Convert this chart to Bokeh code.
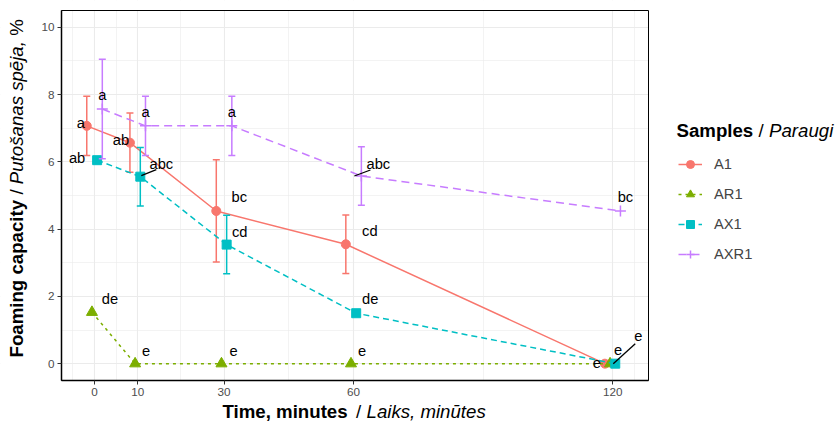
import numpy as np
from bokeh.plotting import figure
from bokeh.models import (ColumnDataSource, FixedTicker, Label, Legend, LegendItem,
                          Range1d, LinearAxis, Grid)
from bokeh.embed import file_html
from bokeh.resources import INLINE
from bokeh.core.properties import value

# ---------------- data ----------------
times = [0, 10, 30, 60, 120]
x_ticks = [0, 10, 30, 60, 120]
y_ticks = [0, 2, 4, 6, 8, 10]
samples = ["A1", "AR1", "AX1", "AXR1"]

a1_mean = [7.07, 6.57, 4.54, 3.55, 0.0]
a1_sd = [0.88, 0.88, 1.52, 0.87, 0.0]
ar1_mean = [1.53, 0.0, 0.0, 0.0, 0.0]
ar1_sd = [0.0, 0.0, 0.0, 0.0, 0.0]
ax1_mean = [6.05, 5.56, 3.54, 1.50, 0.0]
ax1_sd = [0.0, 0.87, 0.87, 0.0, 0.0]
axr1_mean = [7.57, 7.07, 7.07, 5.58, 4.54]
axr1_sd = [1.48, 0.88, 0.88, 0.87, 0.0]

a1_letters = ["a", "ab", "bc", "cd", "e"]
ar1_letters = ["de", "e", "e", "e", "e"]
ax1_letters = ["ab", "abc", "cd", "de", "e"]
axr1_letters = ["a", "a", "a", "abc", "bc"]

means = [a1_mean, ar1_mean, ax1_mean, axr1_mean]
sds = [a1_sd, ar1_sd, ax1_sd, axr1_sd]
letters = [a1_letters, ar1_letters, ax1_letters, axr1_letters]

# ---------------- styles ----------------
colors = ["#F8766D", "#7CAE00", "#00BFC4", "#C77CFF"]
dashes = ["solid", "3 4", "6 4", "8 5"]
markers = ["circle", "triangle", "square", "cross"]
msizes = [9, 11, 9, 11]
dodge = [-1.8, -0.6, 0.6, 1.8]
# label offsets in screen px (dx right, dy down)
lab_dx = [[-6, -9, 23, 24, -8],
          [18, 11, 12, 11, 8],
          [-20, 21, 13, 14, 23],
          [0, 0, 0, 17, 5]]
lab_dy = [[-4, -4, -15, -14, -2],
          [-14, -14, -14, -14, -15],
          [-3, -14, -14, -15, -29],
          [-15, -15, -15, -13, -15]]
# repel segments (screen px, relative to point): (series, index, x0, y0, x1, y1)
seg_px = [(2, 1, 1, -1, 16, -7),
          (3, 3, -7, 0, 9, -6),
          (2, 4, -2, 0, 20, -20)]

FONT = "Liberation Sans"
W, H = 837, 422
# panel box in canvas pixels
PL, PR, PT, PB = 61, 648, 10, 380
x0r, x1r = -7.65, 128.3
y0r, y1r = -0.5, 10.5
px_x = (PR - PL) / (x1r - x0r)
px_y = (PB - PT) / (y1r - y0r)
cx0 = x0r - PL / px_x
cx1 = x1r + (W - PR) / px_x
cy1 = y1r + PT / px_y
cy0 = y0r - (H - PB) / px_y

p = figure(width=W, height=H, output_backend="svg", toolbar_location=None,
           title=None, x_range=Range1d(cx0, cx1), y_range=Range1d(cy0, cy1),
           x_axis_location=None, y_axis_location=None,
           min_border=0, min_border_left=0, min_border_right=0,
           min_border_top=0, min_border_bottom=0)
p.background_fill_color = "white"
p.border_fill_color = "white"
p.outline_line_color = None
p.grid.visible = False

xtk = FixedTicker(ticks=x_ticks, minor_ticks=[-5, 5, 20, 45, 90, 125])
ytk = FixedTicker(ticks=y_ticks, minor_ticks=[1, 3, 5, 7, 9])

for dim, tk in ((0, xtk), (1, ytk)):
    g = Grid(dimension=dim, ticker=tk, grid_line_color="#EBEBEB", grid_line_width=1.1,
             minor_grid_line_color="#EBEBEB", minor_grid_line_width=0.6)
    p.add_layout(g)

# white masks outside the panel (hide grid outside)
p.quad(left=[cx0, x1r, x0r, x0r], right=[x0r, cx1, x1r, x1r],
       bottom=[cy0, cy0, y1r, cy0], top=[cy1, cy1, cy1, y0r],
       fill_color="white", line_color=None)
# panel border
p.quad(left=[x0r], right=[x1r], bottom=[y0r], top=[y1r], fill_color=None,
       line_color="black", line_width=1)

xax = LinearAxis(ticker=xtk, fixed_location=y0r, bounds=(x0r, x1r))
yax = LinearAxis(ticker=ytk, fixed_location=x0r, bounds=(y0r, y1r))
for ax in (xax, yax):
    ax.axis_line_color = "black"
    ax.axis_line_width = 1.5
    ax.major_tick_line_color = "#333333"
    ax.major_tick_out = 4
    ax.major_tick_in = 0
    ax.minor_tick_line_color = None
    ax.major_label_text_font = FONT
    ax.major_label_text_font_size = "11.7px"
    ax.major_label_text_color = "#4D4D4D"
    ax.major_label_standoff = 3
p.add_layout(xax, "below")
p.add_layout(yax, "left")

legend_items = []
for i, name in enumerate(samples):
    xs = [t + dodge[i] for t in times]
    m = means[i]
    s = sds[i]
    ex, elo, ehi = [], [], []
    for xv, mv, sv in zip(xs, m, s):
        if sv > 0:
            ex.append(xv); elo.append(mv - sv); ehi.append(mv + sv)
    if ex:
        cap = 3.5 / px_x
        p.segment(x0=ex, y0=elo, x1=ex, y1=ehi, line_color=colors[i], line_width=1.5)
        p.segment(x0=[v - cap for v in ex], y0=elo, x1=[v + cap for v in ex], y1=elo,
                  line_color=colors[i], line_width=1.5)
        p.segment(x0=[v - cap for v in ex], y0=ehi, x1=[v + cap for v in ex], y1=ehi,
                  line_color=colors[i], line_width=1.5)
    lr = p.line(xs, m, line_color=colors[i], line_width=1.5, line_dash=dashes[i])
    if markers[i] == "cross":
        mr = p.scatter(xs, m, marker="cross", size=msizes[i], line_color=colors[i],
                       line_width=1.5)
    else:
        mr = p.scatter(xs, m, marker=markers[i], size=msizes[i], fill_color=colors[i],
                       line_color=colors[i])
    legend_items.append(LegendItem(label=name, renderers=[lr, mr]))

# significance letters
for i in range(4):
    xs = [t + dodge[i] for t in times]
    src = ColumnDataSource(dict(x=xs, y=means[i], text=letters[i],
                                dx=lab_dx[i], dy=[d + 1 for d in lab_dy[i]]))
    p.text(x="x", y="y", text="text", x_offset="dx", y_offset="dy", source=src,
           text_align="center", text_baseline="middle", text_color="black",
           text_font=value(FONT), text_font_size="14.7px")

# repel segments
for (si, idx, sx0, sy0, sx1, sy1) in seg_px:
    bx = times[idx] + dodge[si]
    by = means[si][idx]
    p.segment(x0=[bx + sx0 / px_x], y0=[by - sy0 / px_y],
              x1=[bx + sx1 / px_x], y1=[by - sy1 / px_y],
              line_color="black", line_width=1.3)

legend = Legend(items=legend_items, location=(678, 158), orientation="vertical",
                glyph_width=24, glyph_height=20, label_height=20, spacing=10,
                padding=0, margin=0, label_standoff=12, border_line_color=None,
                background_fill_alpha=0, label_text_font=FONT,
                label_text_font_size="14.7px", label_text_baseline="middle")
p.add_layout(legend, "center")

def lab(x, y, text, style, angle=0.0, size="18.67px", align="left"):
    # x from canvas left, y from canvas top (converted to bottom-up screen units)
    p.add_layout(Label(x=x, y=H - y, x_units="screen", y_units="screen", text=text,
                       text_font=FONT, text_font_style=style, text_font_size=size,
                       text_baseline="alphabetic", text_align=align, angle=angle,
                       text_color="black"))

# x-axis title
XT_BASE = 411
lab(222, XT_BASE, "Time, minutes", "bold")
lab(358, XT_BASE, "/", "normal", align="center")
lab(366, XT_BASE, "Laiks, minūtes", "italic")

# y-axis title, rotated
a = np.pi / 2
YT_X = 15.5
lab(YT_X, 357, "Foaming capacity", "bold", angle=a)
lab(YT_X, 357 - 162.9, "/", "normal", angle=a)
lab(YT_X, 357 - 173.3, "Putošanas spēja,", "italic", angle=a)
lab(YT_X, 357 - 321.7, "%", "normal", angle=a)

# legend title
LT_BASE = 130
lab(676, LT_BASE, "Samples", "bold")
lab(758, LT_BASE, "/", "normal")
lab(768.5, LT_BASE, "Paraugi", "italic")

open("out.html", "w").write(file_html(p, INLINE))
